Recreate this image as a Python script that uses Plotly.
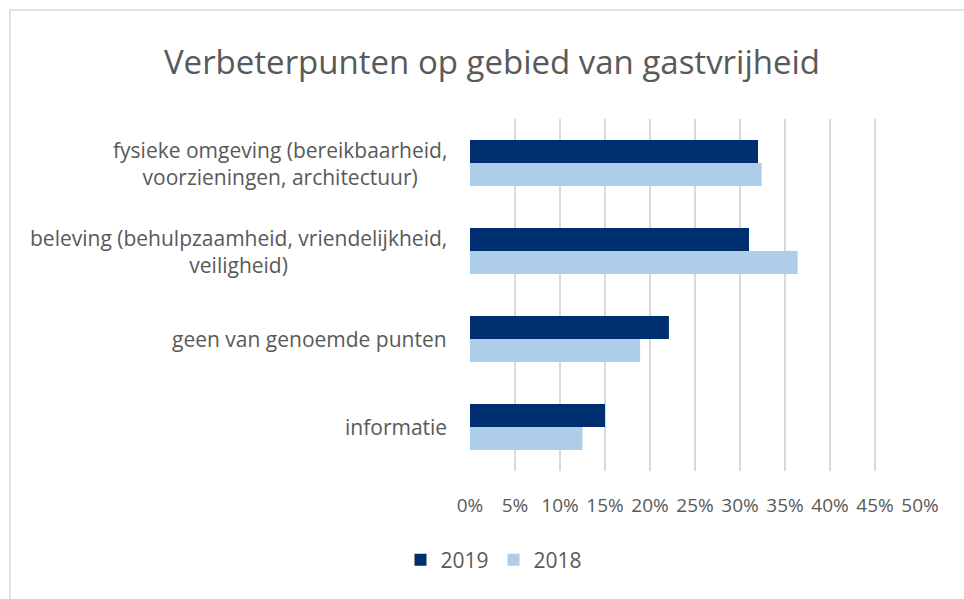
import plotly.graph_objects as go

categories = [
    "fysieke omgeving (bereikbaarheid,<br>voorzieningen, architectuur)",
    "beleving (behulpzaamheid, vriendelijkheid,<br>veiligheid)",
    "geen van genoemde punten",
    "informatie",
]
cat_keys = ["fysieke", "beleving", "geen", "informatie"]
values_2019 = [0.320, 0.310, 0.221, 0.150]
values_2018 = [0.324, 0.364, 0.189, 0.125]
x_ticks = [0, 0.05, 0.10, 0.15, 0.20, 0.25, 0.30, 0.35, 0.40, 0.45, 0.50]
x_ticklabels = ["0%", "5%", "10%", "15%", "20%", "25%", "30%", "35%", "40%", "45%", "50%"]

FONT = "Open Sans"
TXT = "#595959"

W, H = 964, 599
L, R, T, B = 470, 44, 119, 128
pw, ph = W - L - R, H - T - B

def px_x(p):
    return (p - L) / pw

def px_y(p):
    return (H - B - p) / ph

fig = go.Figure()
fig.add_trace(go.Bar(y=cat_keys, x=values_2019, name="2019", orientation="h",
                     marker=dict(color="#002F6F", line=dict(width=0))))
fig.add_trace(go.Bar(y=cat_keys, x=values_2018, name="2018", orientation="h",
                     marker=dict(color="#AECDE9", line=dict(width=0))))

annotations = []
for k, lab in zip(cat_keys, categories):
    annotations.append(dict(x=px_x(449), xref="paper", xanchor="right",
                            y=k, yref="y", yanchor="middle", text=lab,
                            showarrow=False, align="center",
                            font=dict(family=FONT, size=21, color=TXT)))

fig.update_layout(
    width=W, height=H,
    margin=dict(l=L, r=R, t=T, b=B),
    paper_bgcolor="white", plot_bgcolor="white",
    barmode="group", bargap=0.477, bargroupgap=0,
    title=dict(text="Verbeterpunten op gebied van gastvrijheid",
               x=px_x(492), xref="paper", xanchor="center",
               y=1 - 62 / H, yanchor="middle",
               font=dict(family=FONT, size=33, color=TXT)),
    xaxis=dict(range=[0, 0.5], tickvals=x_ticks, ticktext=x_ticklabels,
               showgrid=True, gridcolor="#D9D9D9", gridwidth=1.5,
               zeroline=False, showline=False,
               ticks="outside", ticklen=17, tickcolor="rgba(0,0,0,0)",
               tickfont=dict(family=FONT, size=19, color=TXT), fixedrange=True),
    yaxis=dict(categoryorder="array", categoryarray=cat_keys,
               autorange="reversed", showticklabels=False,
               showgrid=False, zeroline=False, showline=False),
    legend=dict(orientation="h", x=px_x(494), xanchor="center",
                y=px_y(560), yanchor="middle",
                font=dict(family=FONT, size=21, color=TXT),
                itemwidth=30),
    annotations=annotations,
    shapes=[dict(type="rect", xref="paper", yref="paper",
                 x0=px_x(10), x1=px_x(975), y0=px_y(610), y1=px_y(10),
                 line=dict(color="#D9D9D9", width=1.5), fillcolor="rgba(0,0,0,0)",
                 layer="below")],
    showlegend=True,
)

fig.write_html("out.html")
